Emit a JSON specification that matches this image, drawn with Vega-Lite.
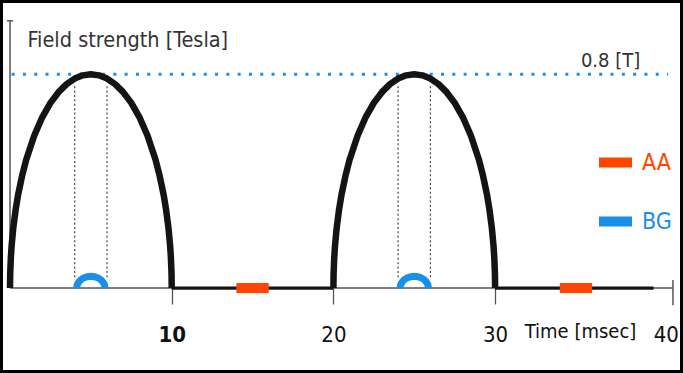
{
  "$schema": "https://vega.github.io/schema/vega-lite/v6.json",
  "width": 683,
  "height": 373,
  "autosize": "none",
  "padding": 0,
  "background": "white",
  "config": {
    "view": {"stroke": "#000000", "strokeWidth": 6},
    "font": "DejaVu Sans Condensed, Liberation Sans Narrow, sans-serif"
  },
  "datasets": {
    "axislines": [
      {"t": 0, "v": 0, "t2": 41, "v2": 0},
      {"t": 0, "v": 0, "t2": 0, "v2": 1.0},
      {"t": -0.19, "v": 1.0, "t2": 0.19, "v2": 1.0},
      {"t": 41, "v": -0.064, "t2": 41, "v2": 0.03}
    ],
    "maxline": [
      {"t": 0.1, "v": 0.8, "t2": 40.7, "v2": 0.8}
    ],
    "vlines": [
      {"t": 4, "v": 0.04, "t2": 4, "v2": 0.76},
      {"t": 6, "v": 0.04, "t2": 6, "v2": 0.76},
      {"t": 24, "v": 0.04, "t2": 24, "v2": 0.76},
      {"t": 26, "v": 0.04, "t2": 26, "v2": 0.76}
    ],
    "flats": [
      {"t": 10, "v": 0, "t2": 20, "v2": 0},
      {"t": 30, "v": 0, "t2": 39.8, "v2": 0}
    ],
    "pulses": [
      {"pulse": 1, "t": 0, "v": 0},
      {"pulse": 1, "t": 0.01, "v": 0.051},
      {"pulse": 1, "t": 0.05, "v": 0.113},
      {"pulse": 1, "t": 0.1, "v": 0.159},
      {"pulse": 1, "t": 0.2, "v": 0.224},
      {"pulse": 1, "t": 0.35, "v": 0.294},
      {"pulse": 1, "t": 0.5, "v": 0.349},
      {"pulse": 1, "t": 0.75, "v": 0.421},
      {"pulse": 1, "t": 1, "v": 0.48},
      {"pulse": 1, "t": 1.5, "v": 0.571},
      {"pulse": 1, "t": 2, "v": 0.64},
      {"pulse": 1, "t": 2.5, "v": 0.693},
      {"pulse": 1, "t": 3, "v": 0.733},
      {"pulse": 1, "t": 3.5, "v": 0.763},
      {"pulse": 1, "t": 4, "v": 0.784},
      {"pulse": 1, "t": 4.5, "v": 0.796},
      {"pulse": 1, "t": 5, "v": 0.8},
      {"pulse": 1, "t": 5.5, "v": 0.796},
      {"pulse": 1, "t": 6, "v": 0.784},
      {"pulse": 1, "t": 6.5, "v": 0.763},
      {"pulse": 1, "t": 7, "v": 0.733},
      {"pulse": 1, "t": 7.5, "v": 0.693},
      {"pulse": 1, "t": 8, "v": 0.64},
      {"pulse": 1, "t": 8.5, "v": 0.571},
      {"pulse": 1, "t": 9, "v": 0.48},
      {"pulse": 1, "t": 9.25, "v": 0.421},
      {"pulse": 1, "t": 9.5, "v": 0.349},
      {"pulse": 1, "t": 9.65, "v": 0.294},
      {"pulse": 1, "t": 9.8, "v": 0.224},
      {"pulse": 1, "t": 9.9, "v": 0.159},
      {"pulse": 1, "t": 9.95, "v": 0.113},
      {"pulse": 1, "t": 9.99, "v": 0.051},
      {"pulse": 1, "t": 10, "v": 0},
      {"pulse": 2, "t": 20, "v": 0},
      {"pulse": 2, "t": 20.01, "v": 0.051},
      {"pulse": 2, "t": 20.05, "v": 0.113},
      {"pulse": 2, "t": 20.1, "v": 0.159},
      {"pulse": 2, "t": 20.2, "v": 0.224},
      {"pulse": 2, "t": 20.35, "v": 0.294},
      {"pulse": 2, "t": 20.5, "v": 0.349},
      {"pulse": 2, "t": 20.75, "v": 0.421},
      {"pulse": 2, "t": 21, "v": 0.48},
      {"pulse": 2, "t": 21.5, "v": 0.571},
      {"pulse": 2, "t": 22, "v": 0.64},
      {"pulse": 2, "t": 22.5, "v": 0.693},
      {"pulse": 2, "t": 23, "v": 0.733},
      {"pulse": 2, "t": 23.5, "v": 0.763},
      {"pulse": 2, "t": 24, "v": 0.784},
      {"pulse": 2, "t": 24.5, "v": 0.796},
      {"pulse": 2, "t": 25, "v": 0.8},
      {"pulse": 2, "t": 25.5, "v": 0.796},
      {"pulse": 2, "t": 26, "v": 0.784},
      {"pulse": 2, "t": 26.5, "v": 0.763},
      {"pulse": 2, "t": 27, "v": 0.733},
      {"pulse": 2, "t": 27.5, "v": 0.693},
      {"pulse": 2, "t": 28, "v": 0.64},
      {"pulse": 2, "t": 28.5, "v": 0.571},
      {"pulse": 2, "t": 29, "v": 0.48},
      {"pulse": 2, "t": 29.25, "v": 0.421},
      {"pulse": 2, "t": 29.5, "v": 0.349},
      {"pulse": 2, "t": 29.65, "v": 0.294},
      {"pulse": 2, "t": 29.8, "v": 0.224},
      {"pulse": 2, "t": 29.9, "v": 0.159},
      {"pulse": 2, "t": 29.95, "v": 0.113},
      {"pulse": 2, "t": 29.99, "v": 0.051},
      {"pulse": 2, "t": 30, "v": 0}
    ],
    "aa": [
      {"signal": "AA", "t": 14, "v": 0, "t2": 16, "v2": 0},
      {"signal": "AA", "t": 34, "v": 0, "t2": 36, "v2": 0}
    ],
    "bg": [
      {"signal": "BG", "pulse": 1, "t": 4.12, "v": 0},
      {"signal": "BG", "pulse": 1, "t": 4.165, "v": 0.0137},
      {"signal": "BG", "pulse": 1, "t": 4.26, "v": 0.0232},
      {"signal": "BG", "pulse": 1, "t": 4.385, "v": 0.0314},
      {"signal": "BG", "pulse": 1, "t": 4.56, "v": 0.0381},
      {"signal": "BG", "pulse": 1, "t": 4.78, "v": 0.0426},
      {"signal": "BG", "pulse": 1, "t": 5, "v": 0.044},
      {"signal": "BG", "pulse": 1, "t": 5.22, "v": 0.0426},
      {"signal": "BG", "pulse": 1, "t": 5.44, "v": 0.0381},
      {"signal": "BG", "pulse": 1, "t": 5.615, "v": 0.0314},
      {"signal": "BG", "pulse": 1, "t": 5.74, "v": 0.0232},
      {"signal": "BG", "pulse": 1, "t": 5.835, "v": 0.0137},
      {"signal": "BG", "pulse": 1, "t": 5.88, "v": 0},
      {"signal": "BG", "pulse": 2, "t": 24.12, "v": 0},
      {"signal": "BG", "pulse": 2, "t": 24.165, "v": 0.0137},
      {"signal": "BG", "pulse": 2, "t": 24.26, "v": 0.0232},
      {"signal": "BG", "pulse": 2, "t": 24.385, "v": 0.0314},
      {"signal": "BG", "pulse": 2, "t": 24.56, "v": 0.0381},
      {"signal": "BG", "pulse": 2, "t": 24.78, "v": 0.0426},
      {"signal": "BG", "pulse": 2, "t": 25, "v": 0.044},
      {"signal": "BG", "pulse": 2, "t": 25.22, "v": 0.0426},
      {"signal": "BG", "pulse": 2, "t": 25.44, "v": 0.0381},
      {"signal": "BG", "pulse": 2, "t": 25.615, "v": 0.0314},
      {"signal": "BG", "pulse": 2, "t": 25.74, "v": 0.0232},
      {"signal": "BG", "pulse": 2, "t": 25.835, "v": 0.0137},
      {"signal": "BG", "pulse": 2, "t": 25.88, "v": 0}
    ],
    "annot": [
      {"t": 37.14, "v": 0.8285, "label": "0.8 [T]"}
    ]
  },
  "encoding": {
    "x": {
      "field": "t",
      "type": "quantitative",
      "scale": {"domain": [-0.62, 41.62], "nice": false, "zero": false},
      "axis": {
        "offset": -85,
        "domain": false,
        "grid": false,
        "values": [10, 20, 30, 40],
        "tickSize": 16,
        "tickColor": "#555555",
        "tickWidth": 1.3,
        "tickOpacity": {"condition": {"test": "datum.value == 40", "value": 0}, "value": 1},
        "labelFontSize": 22,
        "labelColor": "#111111",
        "labelBaseline": "alphabetic",
        "labelPadding": 37,
        "labelFlush": false,
        "labelOverlap": false,
        "labelOffset": {"condition": {"test": "datum.value == 40", "value": 9}, "value": 0},
        "labelFontWeight": {"condition": {"test": "datum.value == 10", "value": "bold"}, "value": "normal"},
        "title": "Time [msec]",
        "titleX": 580,
        "titleY": 49,
        "titleAlign": "center",
        "titleBaseline": "alphabetic",
        "titleFontSize": 20,
        "titleFontWeight": "normal",
        "titleColor": "#111111"
      }
    },
    "y": {
      "field": "v",
      "type": "quantitative",
      "scale": {"domain": [-0.318, 1.078], "nice": false, "zero": false},
      "axis": {
        "domain": false,
        "grid": false,
        "ticks": false,
        "labels": false,
        "title": "Field strength [Tesla]",
        "titleAngle": 0,
        "titleX": 27,
        "titleY": 46.5,
        "titleAlign": "left",
        "titleBaseline": "alphabetic",
        "titleFontSize": 21.5,
        "titleFontWeight": "normal",
        "titleColor": "#333333"
      }
    }
  },
  "layer": [
    {
      "data": {"name": "axislines"},
      "mark": {"type": "rule", "color": "#555555", "strokeWidth": 1.5},
      "encoding": {"x2": {"field": "t2"}, "y2": {"field": "v2"}}
    },
    {
      "data": {"name": "maxline"},
      "mark": {"type": "rule", "color": "#1e8fe6", "strokeWidth": 3, "strokeDash": [3, 8.3]},
      "encoding": {"x2": {"field": "t2"}, "y2": {"field": "v2"}}
    },
    {
      "data": {"name": "vlines"},
      "mark": {"type": "rule", "color": "#5c3a3a", "strokeWidth": 1.2, "strokeDash": [2, 2.4]},
      "encoding": {"x2": {"field": "t2"}, "y2": {"field": "v2"}}
    },
    {
      "data": {"name": "flats"},
      "mark": {"type": "rule", "color": "#141414", "strokeWidth": 3.2},
      "encoding": {"x2": {"field": "t2"}, "y2": {"field": "v2"}}
    },
    {
      "data": {"name": "pulses"},
      "mark": {"type": "line", "color": "#141414", "strokeWidth": 6.5, "strokeJoin": "round"},
      "encoding": {"detail": {"field": "pulse", "type": "nominal"}}
    },
    {
      "data": {"name": "aa"},
      "mark": {"type": "rule", "strokeWidth": 10},
      "encoding": {
        "x2": {"field": "t2"},
        "y2": {"field": "v2"},
        "color": {
          "field": "signal",
          "type": "nominal",
          "scale": {"domain": ["AA", "BG"], "range": ["#ff4500", "#1a8fe8"]},
          "legend": {
            "title": null,
            "orient": "none",
            "legendX": 594,
            "legendY": 141,
            "symbolType": "stroke",
            "symbolSize": 1089,
            "symbolStrokeWidth": 10,
            "labelFontSize": 23,
            "labelOffset": 5,
            "rowPadding": 17,
            "encode": {"labels": {"update": {"fill": {"scale": "color", "field": "value"}}}}
          }
        }
      }
    },
    {
      "data": {"name": "bg"},
      "mark": {"type": "line", "strokeWidth": 7},
      "encoding": {
        "detail": {"field": "pulse", "type": "nominal"},
        "color": {"field": "signal", "type": "nominal"}
      }
    },
    {
      "data": {"name": "annot"},
      "mark": {"type": "text", "align": "center", "baseline": "alphabetic", "fontSize": 20, "color": "#333333"},
      "encoding": {"text": {"field": "label"}}
    }
  ]
}
